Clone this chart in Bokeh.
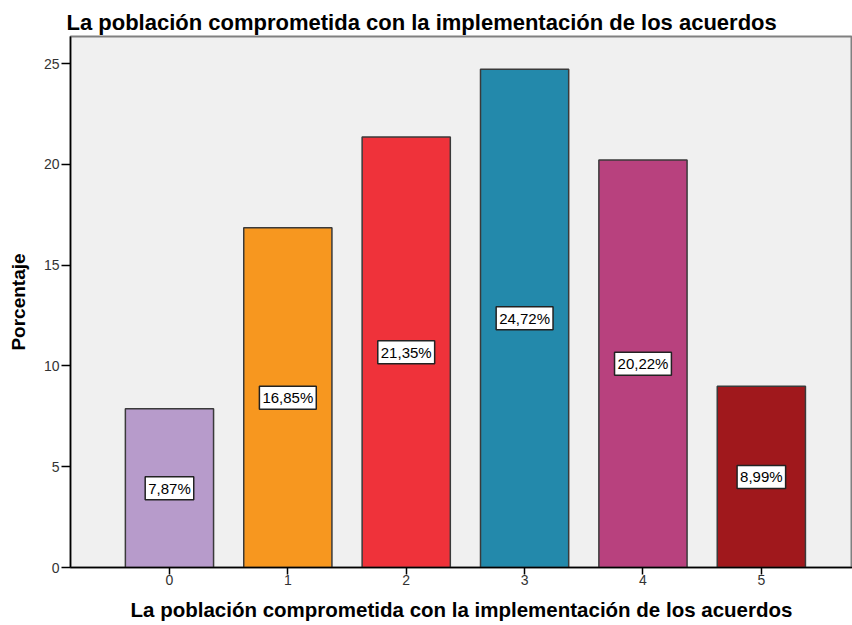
from bokeh.plotting import figure
from bokeh.models import ColumnDataSource, Label, FixedTicker, Range1d
from bokeh.embed import file_html
from bokeh.resources import INLINE

categories = [0, 1, 2, 3, 4, 5]
percentages = [7.87, 16.85, 21.35, 24.72, 20.22, 8.99]
bar_labels = ["7,87%", "16,85%", "21,35%", "24,72%", "20,22%", "8,99%"]
colors = ["#B79BCB", "#F7971F", "#EF323A", "#2389AB", "#B8417E", "#A0181C"]
y_ticks = [0, 5, 10, 15, 20, 25]

title_text = "La población comprometida con la implementación de los acuerdos"

src = ColumnDataSource(dict(
    x=categories,
    top=percentages,
    color=colors,
))

p = figure(width=852, height=625, output_backend="svg", toolbar_location=None,
           x_range=Range1d(-0.836, 5.77), y_range=Range1d(0, 26.34),
           min_border_left=70, min_border_top=36, min_border_bottom=58,
           min_border_right=0)

p.title.text = title_text
p.title.text_font = "Liberation Sans"
p.title.text_font_size = "22px"
p.title.text_font_style = "bold"
p.title.text_color = "#000000"
p.title.align = "left"
p.title.offset = -4
p.title.standoff = 4

p.background_fill_color = "#F0F0F0"
p.border_fill_color = "#FFFFFF"
p.outline_line_color = "#808080"
p.outline_line_width = 2
p.xgrid.grid_line_color = None
p.ygrid.grid_line_color = None

p.vbar(x="x", top="top", width=0.745, source=src, fill_color="color",
       line_color="#3A3A3A", line_width=1.5)

for cat, val, lab in zip(categories, percentages, bar_labels):
    p.add_layout(Label(x=cat, y=val / 2, text=lab,
                       text_align="center", text_baseline="middle",
                       text_font_size="15px", text_font="Liberation Sans",
                       text_color="#000000",
                       background_fill_color="#FFFFFF",
                       border_line_color="#222222", border_line_width=1.5,
                       padding=3))

# axes
p.xaxis.ticker = FixedTicker(ticks=categories)
p.xaxis.major_label_overrides = {c: str(c) for c in categories}
p.yaxis.ticker = FixedTicker(ticks=y_ticks)
p.xaxis.minor_tick_line_color = None
p.yaxis.minor_tick_line_color = None
for ax in (p.xaxis, p.yaxis):
    ax.axis_line_color = "#000000"
    ax.axis_line_width = 1.5
    ax.major_tick_line_color = "#000000"
    ax.major_tick_line_width = 1.5
    ax.major_tick_in = 0
    ax.major_label_text_font = "Liberation Sans"
    ax.major_label_text_font_size = "14px"
    ax.major_label_text_color = "#333333"
    ax.axis_label_text_font = "Liberation Sans"
    ax.axis_label_text_font_style = "bold"
    ax.axis_label_text_color = "#000000"

p.xaxis.major_tick_out = 7
p.yaxis.major_tick_out = 9
p.xaxis.major_label_standoff = 0
p.yaxis.major_label_standoff = 2
p.xaxis.axis_label = title_text
p.xaxis.axis_label_text_font_size = "20.5px"
p.xaxis.axis_label_standoff = 10
p.yaxis.axis_label = "Porcentaje"
p.yaxis.axis_label_text_font_size = "19px"
p.yaxis.axis_label_standoff = 12

open("out.html", "w").write(file_html(p, INLINE))
